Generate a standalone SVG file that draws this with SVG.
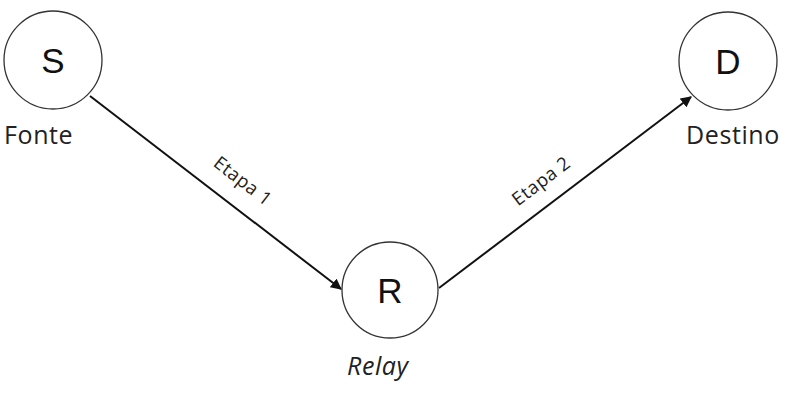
<svg xmlns="http://www.w3.org/2000/svg" width="798" height="406" viewBox="0 0 798 406">
<style>
.node{fill:#fff;stroke:#333;stroke-width:1.3}
.letter{font-family:"Liberation Sans",Arial,sans-serif;font-size:35px;fill:#111;text-anchor:middle}
.lbl{font-family:"Open Sans","Noto Sans",sans-serif;font-size:25px;fill:#222;letter-spacing:0.6px}
.edge{stroke:#111;stroke-width:2;fill:none}
.elbl{font-family:"Open Sans","Noto Sans",sans-serif;font-size:18.5px;fill:#222;text-anchor:middle;letter-spacing:0.5px}
</style>
<defs>
<marker id="arr" viewBox="0 0 10 10" refX="9" refY="5" markerWidth="5.5" markerHeight="5.5" orient="auto" markerUnits="strokeWidth">
<path d="M0,0 L10,5 L0,10 z" fill="#111"/>
</marker>
</defs>
<rect width="798" height="406" fill="#fff"/>
<g id="connectors">
<line class="edge" x1="90" y1="96" x2="341" y2="289" marker-end="url(#arr)"/>
<line class="edge" x1="439" y1="288" x2="691" y2="97" marker-end="url(#arr)"/>
<text class="elbl" transform="translate(239,186) rotate(37.6)">Etapa 1</text>
<text class="elbl" transform="translate(545,186) rotate(-37.2)">Etapa 2</text>
</g>
<g id="node-S">
<circle class="node" cx="53" cy="60" r="49"/>
<text class="letter" x="53" y="73">S</text>
<text class="lbl" x="4" y="144">Fonte</text>
</g>
<g id="node-R">
<circle class="node" cx="390" cy="290" r="48"/>
<text class="letter" x="390" y="303">R</text>
<text class="lbl" x="347" y="375" font-style="italic" letter-spacing="1.2">Relay</text>
</g>
<g id="node-D">
<circle class="node" cx="728" cy="61" r="49"/>
<text class="letter" x="728" y="74">D</text>
<text class="lbl" x="686" y="144">Destino</text>
</g>
</svg>
